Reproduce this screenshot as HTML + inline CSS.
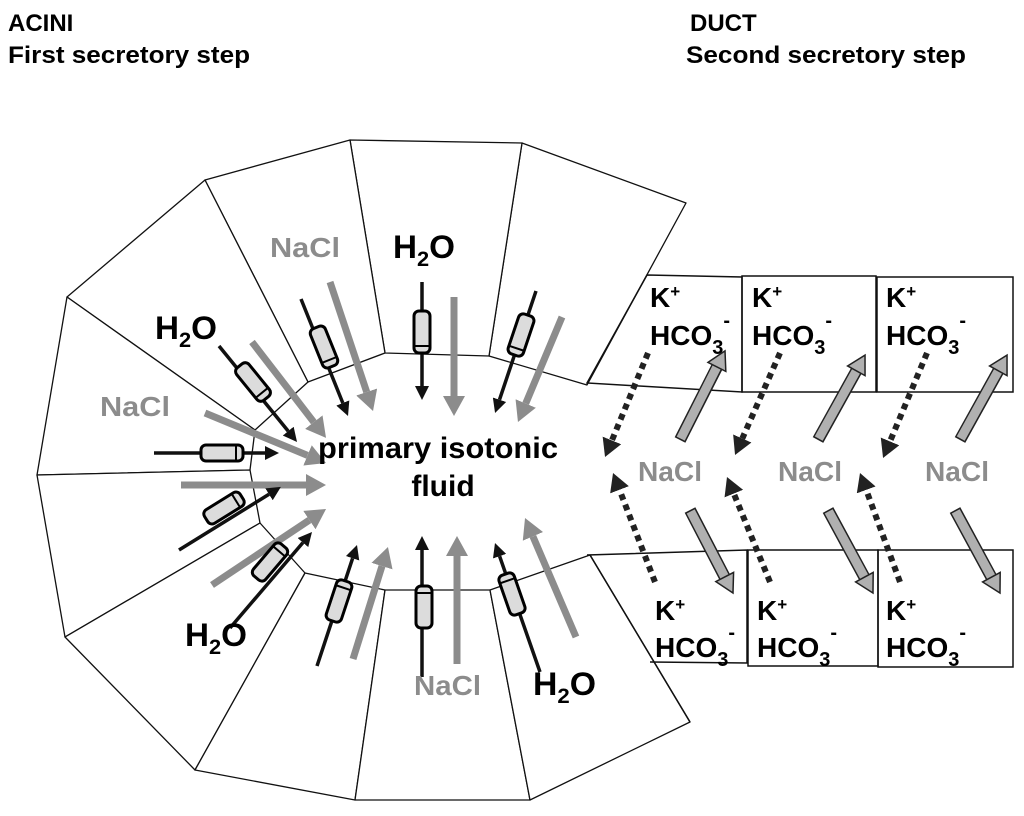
<!DOCTYPE html>
<html><head><meta charset="utf-8"><style>
html,body{margin:0;padding:0;background:#fff;}
svg{display:block;}
text{font-family:"Liberation Sans",Arial,sans-serif;font-weight:bold;}
</style></head><body>
<svg width="1024" height="816" viewBox="0 0 1024 816" xmlns="http://www.w3.org/2000/svg">
<defs>
<marker id="mg" markerUnits="userSpaceOnUse" markerWidth="20" markerHeight="22" viewBox="0 -11 20 22" refX="0" refY="0" orient="auto"><path d="M0,-11 L20,0 L0,11 z" fill="#8c8c8c"/></marker>
<marker id="mb" markerUnits="userSpaceOnUse" markerWidth="14" markerHeight="14" viewBox="0 -7 14 14" refX="0" refY="0" orient="auto"><path d="M0,-7 L14,0 L0,7 z" fill="#111"/></marker>
<marker id="md" markerUnits="userSpaceOnUse" markerWidth="18" markerHeight="20" viewBox="0 -10 18 20" refX="0" refY="0" orient="auto"><path d="M0,-10 L18,0 L0,10 z" fill="#222"/></marker>
<marker id="mh" markerUnits="userSpaceOnUse" markerWidth="24" markerHeight="28" viewBox="-2 -14 24 28" refX="0" refY="0" orient="auto" overflow="visible"><path d="M0,-10 L18,0 L0,10 z" fill="#b0b0b0" stroke="#222" stroke-width="1.5" stroke-linejoin="miter"/></marker>
<g id="cyl"><rect x="-8" y="-21" width="16" height="42" rx="5" fill="#dcdcdc" stroke="#000" stroke-width="3"/><line x1="-7" y1="14" x2="7" y2="14" stroke="#000" stroke-width="2"/></g>
</defs>

<!-- titles -->
<text x="8" y="31" font-size="24">ACINI</text>
<text x="8" y="63" font-size="24" textLength="242" lengthAdjust="spacingAndGlyphs">First secretory step</text>
<text x="690" y="31" font-size="24">DUCT</text>
<text x="686" y="63" font-size="24" textLength="280" lengthAdjust="spacingAndGlyphs">Second secretory step</text>

<!-- acinar cells -->
<g fill="#fff" stroke="#111" stroke-width="1.3" stroke-linejoin="round">
<polygon points="686,203 522,143 489,356 587,385"/>
<polygon points="522,143 350,140 385,353 489,356"/>
<polygon points="350,140 205,180 308,382 385,353"/>
<polygon points="205,180 67,297 255,430 308,382"/>
<polygon points="67,297 37,475 250,470 255,430"/>
<polygon points="37,475 65,637 260,523 250,470"/>
<polygon points="65,637 195,770 305,573 260,523"/>
<polygon points="195,770 355,800 385,590 305,573"/>
<polygon points="355,800 530,800 490,590 385,590"/>
<polygon points="530,800 690,722 590,555 490,590"/>
</g>
<!-- duct boxes -->
<g fill="none" stroke="#111" stroke-width="1.5">
<polygon points="647,275 742,277 742,392 587,383"/>
<rect x="742" y="276" width="134" height="116"/>
<rect x="877" y="277" width="136" height="115"/>
<polyline points="587,555 747,550 747,663 650,662"/>
<line x1="590" y1="555" x2="690" y2="722"/>
<rect x="748" y="550" width="130" height="116"/>
<rect x="878" y="550" width="135" height="117"/>
</g>

<!-- gray NaCl arrows acini -->
<g stroke="#8c8c8c" stroke-width="7" marker-end="url(#mg)">
<line x1="454" y1="297" x2="454" y2="396"/>
<line x1="562" y1="317" x2="525.7" y2="403.5"/>
<line x1="330" y1="282" x2="366.7" y2="392"/>
<line x1="252" y1="342" x2="313.8" y2="422.1"/>
<line x1="205" y1="413" x2="307.5" y2="455.4"/>
<line x1="181" y1="485" x2="306" y2="485"/>
<line x1="212" y1="585" x2="309.4" y2="520.1"/>
<line x1="353" y1="659" x2="382" y2="566.1"/>
<line x1="457" y1="664" x2="457" y2="556"/>
<line x1="576" y1="637" x2="532.9" y2="536.4"/>
</g>
<!-- black H2O arrows -->
<g stroke="#111" stroke-width="3.5" marker-end="url(#mb)">
<line x1="422" y1="282" x2="422" y2="386"/>
<line x1="536" y1="291" x2="499.5" y2="399.7"/>
<line x1="301" y1="299" x2="342.8" y2="403"/>
<line x1="219" y1="346" x2="288.2" y2="431.1"/>
<line x1="154" y1="453" x2="265" y2="453"/>
<line x1="179" y1="550" x2="269" y2="494.3"/>
<line x1="230" y1="628" x2="302.9" y2="542.6"/>
<line x1="317" y1="666" x2="352.6" y2="558.3"/>
<line x1="422" y1="677" x2="422" y2="550"/>
<line x1="540" y1="672" x2="499.6" y2="556.2"/>
</g>
<!-- channels -->
<use href="#cyl" transform="translate(422,332)"/>
<use href="#cyl" transform="translate(521,335) rotate(18.6)"/>
<use href="#cyl" transform="translate(324,347) rotate(-21.9)"/>
<use href="#cyl" transform="translate(253,382) rotate(-39.1)"/>
<use href="#cyl" transform="translate(222,453) rotate(-90)"/>
<use href="#cyl" transform="translate(224,508) rotate(238.3)"/>
<use href="#cyl" transform="translate(270,562) rotate(220.5)"/>
<use href="#cyl" transform="translate(339,601) rotate(198.3)"/>
<use href="#cyl" transform="translate(424,607) rotate(180)"/>
<use href="#cyl" transform="translate(512,594) rotate(160.8)"/>

<!-- acini labels -->
<text x="270" y="257" font-size="28" fill="#8c8c8c" textLength="70" lengthAdjust="spacingAndGlyphs">NaCl</text>
<text x="393" y="258" font-size="32" textLength="62" lengthAdjust="spacingAndGlyphs">H<tspan font-size="21" dy="8">2</tspan><tspan dy="-8">O</tspan></text>
<text x="155" y="339" font-size="32" textLength="62" lengthAdjust="spacingAndGlyphs">H<tspan font-size="21" dy="8">2</tspan><tspan dy="-8">O</tspan></text>
<text x="100" y="416" font-size="28" fill="#8c8c8c" textLength="70" lengthAdjust="spacingAndGlyphs">NaCl</text>
<text x="185" y="646" font-size="32" textLength="62" lengthAdjust="spacingAndGlyphs">H<tspan font-size="21" dy="8">2</tspan><tspan dy="-8">O</tspan></text>
<text x="414" y="695" font-size="28" fill="#8c8c8c" textLength="67" lengthAdjust="spacingAndGlyphs">NaCl</text>
<text x="533" y="695" font-size="32" textLength="63" lengthAdjust="spacingAndGlyphs">H<tspan font-size="21" dy="8">2</tspan><tspan dy="-8">O</tspan></text>
<text x="318" y="458" font-size="30" textLength="240" lengthAdjust="spacingAndGlyphs">primary isotonic</text>
<text x="443" y="496" font-size="30" text-anchor="middle">fluid</text>

<!-- duct labels -->
<g font-size="28">
<text x="650" y="307">K<tspan font-size="17" dy="-10">+</tspan></text>
<text x="650" y="345">HCO<tspan font-size="20" dy="9">3</tspan><tspan font-size="20" dy="-27">-</tspan></text>
<text x="752" y="307">K<tspan font-size="17" dy="-10">+</tspan></text>
<text x="752" y="345">HCO<tspan font-size="20" dy="9">3</tspan><tspan font-size="20" dy="-27">-</tspan></text>
<text x="886" y="307">K<tspan font-size="17" dy="-10">+</tspan></text>
<text x="886" y="345">HCO<tspan font-size="20" dy="9">3</tspan><tspan font-size="20" dy="-27">-</tspan></text>
<text x="655" y="620">K<tspan font-size="17" dy="-10">+</tspan></text>
<text x="655" y="657">HCO<tspan font-size="20" dy="9">3</tspan><tspan font-size="20" dy="-27">-</tspan></text>
<text x="757" y="620">K<tspan font-size="17" dy="-10">+</tspan></text>
<text x="757" y="657">HCO<tspan font-size="20" dy="9">3</tspan><tspan font-size="20" dy="-27">-</tspan></text>
<text x="886" y="620">K<tspan font-size="17" dy="-10">+</tspan></text>
<text x="886" y="657">HCO<tspan font-size="20" dy="9">3</tspan><tspan font-size="20" dy="-27">-</tspan></text>
</g>
<g font-size="28" fill="#8c8c8c">
<text x="638" y="481" textLength="64" lengthAdjust="spacingAndGlyphs">NaCl</text>
<text x="778" y="481" textLength="64" lengthAdjust="spacingAndGlyphs">NaCl</text>
<text x="925" y="481" textLength="64" lengthAdjust="spacingAndGlyphs">NaCl</text>
</g>

<!-- dotted arrows -->
<g stroke="#222" stroke-width="6" stroke-dasharray="6,5" marker-end="url(#md)">
<line x1="648" y1="353" x2="611.9" y2="440.4"/>
<line x1="780" y1="353" x2="742.3" y2="438.5"/>
<line x1="927" y1="353" x2="890" y2="441.4"/>
<line x1="655" y1="582" x2="619.5" y2="489.8"/>
<line x1="770" y1="582" x2="733.8" y2="493.6"/>
<line x1="900" y1="582" x2="866.2" y2="489.9"/>
</g>
<!-- hollow gray arrows -->
<g stroke="#222" stroke-width="12">
<line x1="680" y1="440" x2="717.5" y2="366"/>
<line x1="818" y1="440" x2="856.8" y2="370"/>
<line x1="960" y1="440" x2="998.8" y2="370"/>
<line x1="690" y1="510" x2="725" y2="577.6"/>
<line x1="828" y1="510" x2="864.7" y2="577.8"/>
<line x1="955" y1="510" x2="991.7" y2="577.8"/>
</g>
<g stroke="#b0b0b0" stroke-width="9">
<line x1="680.7" y1="438.6" x2="716.9" y2="366.9" marker-end="url(#mh)"/>
<line x1="818.7" y1="438.6" x2="856.3" y2="370.8" marker-end="url(#mh)"/>
<line x1="960.7" y1="438.6" x2="998.3" y2="370.8" marker-end="url(#mh)"/>
<line x1="690.7" y1="511.4" x2="724.7" y2="577" marker-end="url(#mh)"/>
<line x1="828.7" y1="511.4" x2="864.4" y2="577.2" marker-end="url(#mh)"/>
<line x1="955.7" y1="511.4" x2="991.4" y2="577.2" marker-end="url(#mh)"/>
</g>
</svg>
</body></html>
